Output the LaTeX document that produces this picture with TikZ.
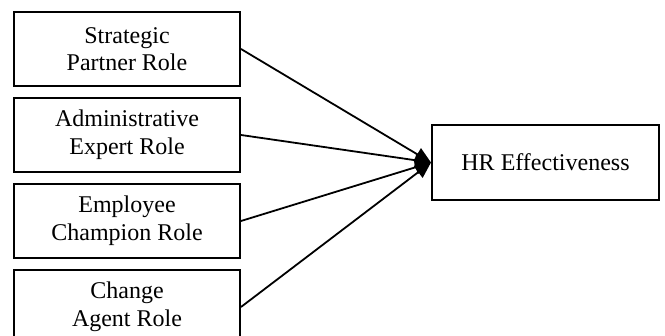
\documentclass[tikz,border=0pt]{standalone}
\usepackage{fontspec}
\setmainfont{Liberation Serif}
\usetikzlibrary{arrows.meta, positioning}

\begin{document}
\begin{tikzpicture}[
    x=1pt, y=1pt,
    node distance=5pt,
    role/.style={draw, line width=1pt, align=center, minimum width=113pt,
                 minimum height=37pt, inner sep=2pt,
                 font=\fontsize{12}{13.8}\selectfont},
    >={Triangle[length=8pt, width=7pt]}]
  \useasboundingbox (0,0) rectangle (332.5,-168);
  \node[role] (sp) at (63.5,-24.5) {Strategic\\ Partner Role};
  \node[role, below=of sp] (ae) {Administrative\\ Expert Role};
  \node[role, below=of ae] (ec) {Employee\\ Champion Role};
  \node[role, below=of ec] (ca) {Change\\ Agent Role};
  \node[role, minimum width=113.5pt, minimum height=37.5pt] (hr) at (272.75,-81.25)
        {HR Effectiveness};
  \draw[->, line width=0.9pt] (sp.east) -- (hr.west);
  \draw[->, line width=0.9pt] (ae.east) -- (hr.west);
  \draw[->, line width=0.9pt] (ec.east) -- (hr.west);
  \draw[->, line width=0.9pt] (ca.east) -- (hr.west);
\end{tikzpicture}
\end{document}
